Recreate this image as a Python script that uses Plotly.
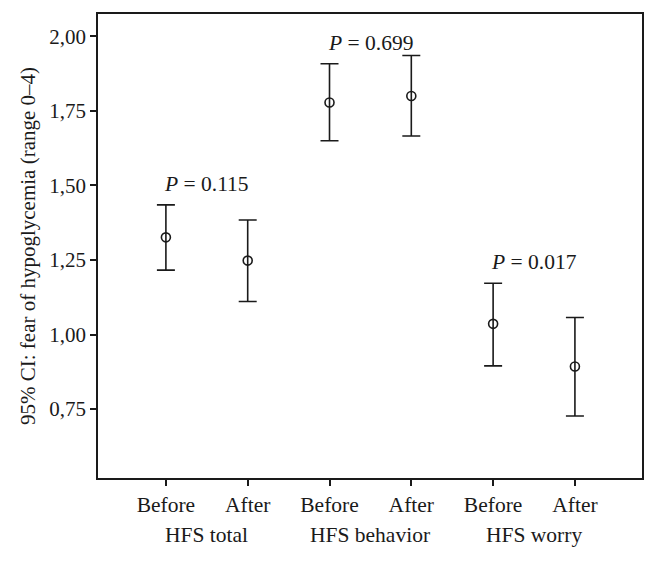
import plotly.graph_objects as go

# ===== data =====
groups = ['HFS total', 'HFS behavior', 'HFS worry']
times = ['Before', 'After']
means = [1.326, 1.248, 1.778, 1.800, 1.036, 0.893]
lower = [1.216, 1.111, 1.650, 1.666, 0.895, 0.727]
upper = [1.435, 1.384, 1.908, 1.936, 1.172, 1.057]
p_values = ['0.115', '0.699', '0.017']
y_ticks = [0.75, 1.00, 1.25, 1.50, 1.75, 2.00]

FONT = 'Liberation Serif'
INK = '#1a1a1a'
FS = 21.5

xs = list(range(len(means)))
tick_text = [t for g in groups for t in times]

fig = go.Figure()
fig.add_trace(go.Scatter(
    x=xs, y=means, mode='markers',
    marker=dict(symbol='circle-open', size=9, color=INK, line=dict(width=1.6)),
    error_y=dict(type='data', symmetric=False,
                 array=[u - m for u, m in zip(upper, means)],
                 arrayminus=[m - l for m, l in zip(means, lower)],
                 color=INK, thickness=1.6, width=9),
    showlegend=False,
))

# P labels above each pair, group names under the tick labels
for i, g in enumerate(groups):
    fig.add_annotation(x=2 * i + 0.5, y=upper[2 * i], yanchor='bottom', yshift=7,
                       text=f'<i>P</i> = {p_values[i]}', showarrow=False,
                       font=dict(family=FONT, size=FS, color=INK))
    fig.add_annotation(x=2 * i + 0.5, y=0, yref='paper', yanchor='middle', yshift=-57,
                       text=g, showarrow=False,
                       font=dict(family=FONT, size=FS, color=INK))

fig.update_xaxes(range=[-0.83, 5.82], tickvals=xs, ticktext=tick_text,
                 ticks='outside', ticklen=6, tickwidth=1.5, tickcolor=INK,
                 showline=True, mirror=True, linecolor=INK, linewidth=1.6,
                 showgrid=False, zeroline=False, automargin=False,
                 tickfont=dict(family=FONT, size=FS, color=INK))
fig.update_yaxes(range=[0.519, 2.075], tickvals=y_ticks, tickformat='.2f',
                 ticks='outside', ticklen=6, tickwidth=1.5, tickcolor=INK,
                 showline=True, mirror=True, linecolor=INK, linewidth=1.6,
                 showgrid=False, zeroline=False, automargin=False,
                 tickfont=dict(family=FONT, size=21, color=INK),
                 title=dict(text='95% CI: fear of hypoglycemia (range 0–4)',
                            font=dict(family=FONT, size=21, color=INK), standoff=8))

# page body adds an 8px margin, so the figure is sized to sit inside it
fig.update_layout(
    width=648, height=553,
    margin=dict(l=90, r=14, t=6, b=83),
    plot_bgcolor='white', paper_bgcolor='white',
    separators=',.',
    font=dict(family=FONT, color=INK),
)

fig.write_html('out.html')
